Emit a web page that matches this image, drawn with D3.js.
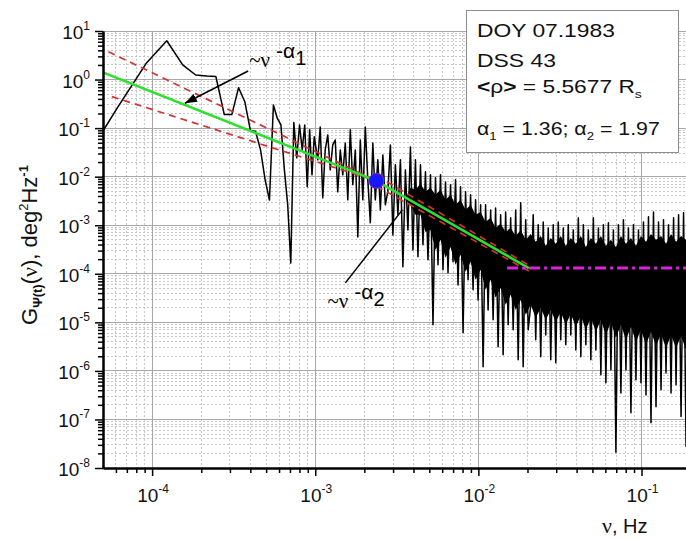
<!DOCTYPE html>
<html>
<head>
<meta charset="utf-8">
<style>
    body {
        margin: 0;
        background: #ffffff;
        font-family: Arial, "Liberation Sans", sans-serif;
    }
    svg { display: block; }
    .minor { stroke: #c8c8c8; stroke-width: 1; stroke-dasharray: 2,2; }
    .major { stroke: #a8a8a8; stroke-width: 1; }
    .serif { font-family: "Liberation Serif", "DejaVu Serif", serif; }
</style>
<script src="https://d3js.org/d3.v7.min.js"></script>
</head>
<body>
<svg id="chart"></svg>
<script>

// ---- data ----
// first spectral bins (individually visible)
const lowF = [3.08e-5, 6.16e-5, 9.24e-5, 1.23e-4, 1.54e-4, 1.85e-4, 2.16e-4, 2.46e-4,
    2.77e-4, 3.08e-4, 3.39e-4, 3.70e-4, 4.00e-4, 4.31e-4, 4.62e-4, 4.93e-4, 5.24e-4,
    5.54e-4, 5.85e-4, 6.16e-4, 6.47e-4, 6.78e-4, 7.08e-4, 7.39e-4, 7.70e-4, 8.01e-4,
    8.32e-4, 8.62e-4, 8.93e-4, 9.24e-4, 9.55e-4, 9.86e-4]
const lowG = [0.0063, 0.27, 2.2, 6.3, 2.0, 1.24, 1.18, 1.15, 0.19, 0.19, 0.68, 0.35,
    0.091, 0.085, 0.0356, 0.0086, 0.0033, 0.30, 0.16, 0.116, 0.0138, 0.0026, 1.66e-4,
    0.13, 0.0244, 0.116, 0.0356, 0.116, 0.0062, 0.092, 0.0109, 0.066]

// dense part: alternating peaks / dips
const denseF = [
    1.036e-3, 1.073e-3, 1.112e-3, 1.151e-3, 1.193e-3, 1.236e-3, 1.280e-3, 1.326e-3, 1.374e-3, 1.424e-3,
    1.475e-3, 1.528e-3, 1.583e-3, 1.640e-3, 1.699e-3, 1.760e-3, 1.824e-3, 1.889e-3, 1.957e-3, 2.027e-3,
    2.100e-3, 2.176e-3, 2.254e-3, 2.335e-3, 2.419e-3, 2.507e-3, 2.597e-3, 2.690e-3, 2.787e-3, 2.888e-3,
    2.992e-3, 3.099e-3, 3.211e-3, 3.327e-3, 3.446e-3, 3.570e-3, 3.699e-3, 3.832e-3, 3.970e-3, 4.113e-3,
    4.261e-3, 4.415e-3, 4.573e-3, 4.738e-3, 4.909e-3, 5.086e-3, 5.269e-3, 5.458e-3, 5.655e-3, 5.858e-3,
    6.069e-3, 6.288e-3, 6.514e-3, 6.749e-3, 6.992e-3, 7.243e-3, 7.504e-3, 7.774e-3, 8.054e-3, 8.344e-3,
    8.645e-3, 8.956e-3, 9.278e-3, 9.612e-3, 9.958e-3, 1.032e-2, 1.069e-2, 1.107e-2, 1.147e-2, 1.189e-2,
    1.231e-2, 1.275e-2, 1.321e-2, 1.369e-2, 1.418e-2, 1.469e-2, 1.522e-2, 1.577e-2, 1.634e-2, 1.693e-2,
    1.754e-2, 1.817e-2, 1.882e-2, 1.950e-2, 2.020e-2, 2.093e-2, 2.168e-2, 2.246e-2, 2.327e-2, 2.411e-2,
    2.498e-2, 2.588e-2, 2.681e-2, 2.777e-2, 2.877e-2, 2.981e-2, 3.088e-2, 3.199e-2, 3.314e-2, 3.434e-2,
    3.557e-2, 3.686e-2, 3.818e-2, 3.956e-2, 4.098e-2, 4.246e-2, 4.399e-2, 4.557e-2, 4.721e-2, 4.891e-2,
    5.067e-2, 5.250e-2, 5.439e-2, 5.634e-2, 5.837e-2, 6.047e-2, 6.265e-2, 6.490e-2, 6.724e-2, 6.966e-2,
    7.217e-2, 7.477e-2, 7.746e-2, 8.025e-2, 8.314e-2, 8.613e-2, 8.923e-2, 9.244e-2, 9.577e-2, 9.922e-2,
    0.1028, 0.1065, 0.1103, 0.1143, 0.1184, 0.1227, 0.1271, 0.1317, 0.1364, 0.1413,
    0.1464, 0.1517, 0.1572, 0.1628, 0.1687, 0.1747, 0.1810, 0.1875]
const denseG = [
    0.0222, 0.106, 3.66e-3, 0.0356, 0.0725, 0.0138, 0.045, 0.057, 4.87e-3, 0.0356,
    0.0109, 0.0495, 3.33e-3, 0.092, 6.8e-3, 0.0356, 5.73e-4, 0.057, 3.33e-3, 0.106,
    8.6e-3, 1.12e-3, 0.0495, 3.33e-3, 0.0222, 2.07e-3, 0.0281, 2.63e-3, 5.0e-3, 0.045,
    6.3e-4, 0.0175, 1.64e-3, 0.0222, 1.39e-4, 0.0138, 8.0e-4, 0.041, 3.1e-4, 0.0222,
    2.24e-4, 0.0175, 3.95e-4, 0.0126, 1.94e-4, 0.0109, 8.9e-6, 9.5e-3, 1.53e-4, 0.0109,
    1.21e-4, 7.8e-3, 1.05e-4, 6.8e-3, 1.77e-4, 8.6e-3, 5.9e-5, 6.2e-3, 6.1e-6, 4.87e-3,
    7.5e-5, 4.22e-3, 4.7e-5, 3.33e-3, 2.9e-5, 2.63e-3, 1.22e-6, 2.63e-3, 1.8e-5, 2.07e-3,
    1.13e-5, 2.27e-3, 3.14e-6, 1.64e-3, 2.15e-6, 1.88e-3, 8.9e-6, 1.42e-3, 7.0e-6, 2.07e-3,
    1.7e-6, 2.89e-3, 1.22e-6, 1.29e-3, 7.0e-6, 2.3e-5, 1.64e-3, 4.4e-6, 1.02e-3, 1.96e-6,
    1.17e-3, 5.5e-6, 8.8e-4, 1.7e-6, 1.02e-3, 1.47e-6, 1.17e-3, 4.4e-6, 8.8e-4, 3.45e-6,
    1.02e-3, 5.5e-6, 8.0e-4, 2.7e-6, 1.42e-3, 1.96e-6, 1.02e-3, 3.45e-6, 8.0e-4, 1.7e-6,
    1.42e-3, 2.7e-6, 8.8e-4, 8.3e-7, 1.02e-3, 5.7e-7, 1.12e-3, 1.06e-6, 8.0e-4, 2.1e-8,
    1.02e-3, 3.5e-7, 1.29e-3, 1.06e-6, 8.8e-4, 1.38e-7, 1.02e-3, 6.6e-7, 8.0e-4, 5.7e-7,
    1.17e-3, 3.2e-7, 1.49e-3, 8.6e-8, 1.88e-3, 1.82e-7, 1.17e-3, 4.1e-7, 1.29e-3, 9.1e-7,
    1.02e-3, 3.5e-7, 1.42e-3, 5.2e-7, 1.64e-3, 1.15e-7, 1.8e-3, 2.7e-8]

// solid black core of the dense spectrum (ragged upper / lower edge)
const coreF = [
    3.570e-3, 3.832e-3, 4.113e-3, 4.415e-3, 4.738e-3, 5.086e-3, 5.458e-3, 5.858e-3, 6.288e-3, 6.749e-3,
    7.243e-3, 7.774e-3, 8.344e-3, 8.956e-3, 9.612e-3, 1.032e-2, 1.107e-2, 1.189e-2, 1.275e-2, 1.369e-2,
    1.469e-2, 1.577e-2, 1.693e-2, 1.817e-2, 1.950e-2, 2.093e-2, 2.246e-2, 2.411e-2, 2.588e-2, 2.777e-2,
    2.981e-2, 3.199e-2, 3.434e-2, 3.686e-2, 3.956e-2, 4.246e-2, 4.557e-2, 4.891e-2, 5.250e-2, 5.634e-2,
    6.047e-2, 6.490e-2, 6.966e-2, 7.477e-2, 8.025e-2, 8.613e-2, 9.244e-2, 9.922e-2, 0.1065, 0.1143,
    0.1227, 0.1317, 0.1413, 0.1517, 0.1628, 0.1747, 0.1875, 0.19]
const coreTop = [
    3.33e-3, 5.88e-3, 5.35e-3, 7.13e-3, 4.87e-3, 5.88e-3, 4.22e-3, 5.35e-3, 3.33e-3, 4.22e-3,
    2.63e-3, 3.33e-3, 2.07e-3, 2.63e-3, 1.64e-3, 1.88e-3, 1.17e-3, 1.42e-3, 8.8e-4, 1.07e-3,
    7.28e-4, 8.8e-4, 6.0e-4, 8.0e-4, 5.0e-4, 6.6e-4, 4.55e-4, 6.0e-4, 3.77e-4, 5.47e-4,
    4.14e-4, 6.0e-4, 3.77e-4, 5.47e-4, 4.14e-4, 6.0e-4, 3.57e-4, 5.47e-4, 4.14e-4, 6.0e-4,
    3.77e-4, 5.0e-4, 3.57e-4, 6.0e-4, 4.14e-4, 5.47e-4, 3.77e-4, 6.0e-4, 4.55e-4, 6.6e-4,
    5.0e-4, 6.0e-4, 4.14e-4, 6.6e-4, 4.55e-4, 6.0e-4, 5.0e-4, 5.0e-4]
const coreBot = [
    3.33e-3, 2.63e-3, 1.64e-3, 1.64e-3, 7.28e-4, 8.0e-4, 3.1e-4, 5.0e-4, 2.13e-4, 3.57e-4,
    1.53e-4, 2.46e-4, 1.10e-4, 1.77e-4, 7.5e-5, 1.21e-4, 4.7e-5, 7.5e-5, 3.19e-5, 5.17e-5,
    2.3e-5, 3.7e-5, 1.8e-5, 2.9e-5, 1.43e-5, 2.3e-5, 1.24e-5, 1.98e-5, 1.13e-5, 1.8e-5,
    1.03e-5, 1.64e-5, 8.9e-6, 1.5e-5, 8.1e-6, 1.36e-5, 7.0e-6, 1.24e-5, 6.4e-6, 1.13e-5,
    5.5e-6, 1.03e-5, 4.84e-6, 8.9e-6, 4.4e-6, 8.1e-6, 4.0e-6, 7.0e-6, 3.45e-6, 6.4e-6,
    3.29e-6, 5.77e-6, 2.97e-6, 5.5e-6, 2.97e-6, 5.25e-6, 2.7e-6, 3.45e-6]

// power-law fit (green), its bounds (red dashed), noise floor (magenta)
const fitF = [5e-5, 2.37e-3, 2.04e-2]
const fitG = [1.40, 8.2e-3, 1.31e-4]
const boundUp1F = [5.40e-5, 2.37e-3], boundUp1G = [3.75, 8.2e-3]
const boundLo1F = [5.66e-5, 2.37e-3], boundLo1G = [0.445, 8.2e-3]
const boundUp2F = [2.37e-3, 2.04e-2], boundUp2G = [1.05e-2, 1.5e-4]
const boundLo2F = [2.37e-3, 2.04e-2], boundLo2G = [6.4e-3, 1.14e-4]
const noiseF = [1.5e-2, 0.19], noiseG = [1.31e-4, 1.31e-4]
const breakF = 2.37e-3, breakG = 8.2e-3

// annotation anchors [f, G]
const arrow1 = [[3.88e-4, 1.50], [1.59e-4, 0.325]]
const arrow2 = [[1.53e-3, 6.5e-5], [3.42e-3, 2.07e-3]]

// axes
const xDomain = [5e-5, 0.19]
const yDomain = [1e-8, 10]
const xTickExp = [-4, -3, -2, -1]
const yTickExp = [-8, -7, -6, -5, -4, -3, -2, -1, 0, 1]
const minorMult = [2, 3, 4, 5, 6, 7, 8, 9]
const xMinorExp = [-5, -4, -3, -2, -1]
const yMinorExp = [-8, -7, -6, -5, -4, -3, -2, -1, 0]

const legendLines = [
    [["DOY 07.1983"]],
    [["DSS 43"]],
    [["<", "b"], ["\u03c1"], [">", "b"], [" = 5.5677 R"], ["s", "sub"]],
    [["\u03b1"], ["1", "sub"], [" = 1.36; \u03b1"], ["2", "sub"], [" = 1.97"]]
]

// ---- drawing ----
const width = 686, height = 540
const pL = 103, pR = 687, pT = 31, pB = 468

const svg = d3.select("#chart").attr("width", width).attr("height", height)

const x = d3.scaleLog().domain(xDomain).range([pL, pR])
const y = d3.scaleLog().domain(yDomain).range([pB, pT])

const defs = svg.append("defs")
defs.append("clipPath").attr("id", "plotClip")
    .append("rect").attr("x", pL).attr("y", pT)
    .attr("width", pR - pL).attr("height", pB - pT)
defs.append("marker").attr("id", "head")
    .attr("markerUnits", "userSpaceOnUse")
    .attr("markerWidth", 13).attr("markerHeight", 9)
    .attr("refX", 12).attr("refY", 4.5).attr("orient", "auto")
    .append("path").attr("d", "M0,0 L12,4.5 L0,9 Z").attr("fill", "#000")

// minor / major grid
let xMinor = [], yMinor = []
xMinorExp.forEach(e => minorMult.forEach(m => {
    let v = m * Math.pow(10, e)
    if (v > xDomain[0] && v < xDomain[1]) xMinor.push(v)
}))
yMinorExp.forEach(e => minorMult.forEach(m => yMinor.push(m * Math.pow(10, e))))
let xMajor = xTickExp.map(e => Math.pow(10, e))
let yMajor = yTickExp.map(e => Math.pow(10, e))

const grid = svg.append("g").attr("shape-rendering", "crispEdges")
grid.selectAll(".gxm").data(xMinor).join("line").attr("class", "minor")
    .attr("x1", d => x(d)).attr("x2", d => x(d)).attr("y1", pT).attr("y2", pB)
grid.selectAll(".gym").data(yMinor).join("line").attr("class", "minor")
    .attr("y1", d => y(d)).attr("y2", d => y(d)).attr("x1", pL).attr("x2", pR)
grid.selectAll(".gxM").data(xMajor).join("line").attr("class", "major")
    .attr("x1", d => x(d)).attr("x2", d => x(d)).attr("y1", pT).attr("y2", pB)
grid.selectAll(".gyM").data(yMajor.slice(1)).join("line").attr("class", "major")
    .attr("y1", d => y(d)).attr("y2", d => y(d)).attr("x1", pL).attr("x2", pR)

const plot = svg.append("g").attr("clip-path", "url(#plotClip)")

// spectrum
plot.append("path")
    .datum(d3.zip(coreF, coreTop, coreBot))
    .attr("d", d3.area().x(d => x(d[0])).y0(d => y(d[2])).y1(d => y(d[1])))
    .attr("fill", "#000")

const line = d3.line().x(d => x(d[0])).y(d => y(d[1]))
plot.append("path")
    .datum(d3.zip(lowF.concat(denseF), lowG.concat(denseG)))
    .attr("d", line)
    .attr("fill", "none").attr("stroke", "#000")
    .attr("stroke-width", 1.5).attr("stroke-linejoin", "round")

// fit bounds
;[[boundUp1F, boundUp1G], [boundLo1F, boundLo1G], [boundUp2F, boundUp2G], [boundLo2F, boundLo2G]]
    .forEach(([f, g]) => {
        plot.append("path").datum(d3.zip(f, g)).attr("d", line)
            .attr("fill", "none").attr("stroke", "#d23232")
            .attr("stroke-width", 1.7).attr("stroke-dasharray", "7,5")
    })

// fit
plot.append("path").datum(d3.zip(fitF, fitG)).attr("d", line)
    .attr("fill", "none").attr("stroke", "#2ee02e").attr("stroke-width", 2.6)

// noise level
plot.append("path").datum(d3.zip(noiseF, noiseG)).attr("d", line)
    .attr("fill", "none").attr("stroke", "#dd22dd")
    .attr("stroke-width", 3).attr("stroke-dasharray", "11,4,3,4")

plot.append("circle").attr("cx", x(breakF)).attr("cy", y(breakG)).attr("r", 7.5)
    .attr("fill", "#1717ff").attr("stroke", "#7a2cc4").attr("stroke-width", 1)

// annotations
svg.append("line")
    .attr("x1", x(arrow1[0][0])).attr("y1", y(arrow1[0][1]))
    .attr("x2", x(arrow1[1][0])).attr("y2", y(arrow1[1][1]))
    .attr("stroke", "#000").attr("stroke-width", 1.5).attr("marker-end", "url(#head)")
svg.append("line")
    .attr("x1", x(arrow2[0][0])).attr("y1", y(arrow2[0][1]))
    .attr("x2", x(arrow2[1][0])).attr("y2", y(arrow2[1][1]))
    .attr("stroke", "#000").attr("stroke-width", 1.5)

function powerLabel(px, py, idx) {
    let t = svg.append("text").attr("x", px).attr("y", py).attr("fill", "#000")
    t.append("tspan").attr("class", "serif").attr("font-size", 21).text("~\u03bd")
    t.append("tspan").attr("font-size", 21).attr("dx", 6).attr("dy", -9).text("-\u03b1")
    t.append("tspan").attr("font-size", 20).attr("dy", 7).text(idx)
}
powerLabel(x(arrow1[0][0]) + 1, y(arrow1[0][1]) - 4, "1")
powerLabel(x(arrow2[0][0]) - 18, y(arrow2[0][1]) + 25, "2")

// axes
const ax = svg.append("g")
ax.append("g").attr("transform", `translate(${pL},0)`)
    .call(d3.axisLeft(y).tickValues(yMinor).tickSize(5).tickFormat("").tickSizeOuter(0))
ax.append("g").attr("transform", `translate(${pL},0)`)
    .call(d3.axisLeft(y).tickValues(yMajor).tickSize(8).tickFormat("").tickSizeOuter(0))
ax.append("g").attr("transform", `translate(0,${pB})`)
    .call(d3.axisBottom(x).tickValues(xMinor).tickSize(5).tickFormat("").tickSizeOuter(0))
ax.append("g").attr("transform", `translate(0,${pB})`)
    .call(d3.axisBottom(x).tickValues(xMajor).tickSize(8).tickFormat("").tickSizeOuter(0))
ax.selectAll(".domain").attr("stroke", "#000").attr("stroke-width", 2)
ax.selectAll(".tick line").attr("stroke", "#000").attr("stroke-width", 1.5)

// tick labels
yTickExp.forEach(e => {
    let t = svg.append("text").attr("x", 90).attr("y", y(Math.pow(10, e)) + 8)
        .attr("text-anchor", "end").attr("font-size", 19).attr("fill", "#111")
    t.append("tspan").text("10")
    t.append("tspan").attr("font-size", 12).attr("dy", -9).text(String(e))
})
xTickExp.forEach(e => {
    let t = svg.append("text").attr("x", x(Math.pow(10, e)) + 1).attr("y", 502)
        .attr("text-anchor", "middle").attr("font-size", 19).attr("fill", "#111")
    t.append("tspan").text("10")
    t.append("tspan").attr("font-size", 12).attr("dy", -9).text(String(e))
})

// axis titles
let xt = svg.append("text").attr("x", 602).attr("y", 533).attr("font-size", 20).attr("fill", "#111")
xt.append("tspan").attr("class", "serif").attr("font-size", 22).text("\u03bd")
xt.append("tspan").text(", Hz")

let yt = svg.append("text").attr("transform", "translate(37,245) rotate(-90)")
    .attr("text-anchor", "middle").attr("font-size", 22).attr("fill", "#111")
yt.append("tspan").text("G")
yt.append("tspan").attr("font-size", 13).attr("font-weight", "bold").attr("dy", 5).text("\u03a8(t)")
yt.append("tspan").attr("dy", -5).text("(")
yt.append("tspan").attr("class", "serif").text("\u03bd")
yt.append("tspan").text("), deg")
yt.append("tspan").attr("font-size", 13).attr("dy", -9).text("2")
yt.append("tspan").attr("dy", 9).text("Hz")
yt.append("tspan").attr("font-size", 13).attr("font-weight", "bold").attr("dy", -9).text("-1")

// legend box
const legend = svg.append("g")
legend.append("rect").attr("x", 466.5).attr("y", 10.5).attr("width", 212).attr("height", 142)
    .attr("fill", "#fff").attr("stroke", "#8c8c8c").attr("stroke-width", 1)

const legendBase = [37, 67, 93, 135]
const legendWidth = [138, 79, 165, 183]
const legendSize = [17.5, 17.5, 17.5, 19]
legendLines.forEach((parts, i) => {
    let t = legend.append("text").attr("x", 0).attr("y", 0)
        .attr("font-size", legendSize[i]).attr("fill", "#111")
    let shift = 0
    parts.forEach(([s, kind]) => {
        let ts = t.append("tspan").text(s)
        if (kind === "sub") {
            ts.attr("font-size", legendSize[i] * 0.62).attr("dy", 5 - shift)
            shift = 5
        } else {
            if (shift) ts.attr("dy", -shift)
            shift = 0
            if (kind === "b") ts.attr("font-weight", "bold")
        }
    })
    let w = t.node().getComputedTextLength()
    t.attr("transform", `translate(477,${legendBase[i]}) scale(${legendWidth[i] / w},1)`)
})

</script>
</body>
</html>
